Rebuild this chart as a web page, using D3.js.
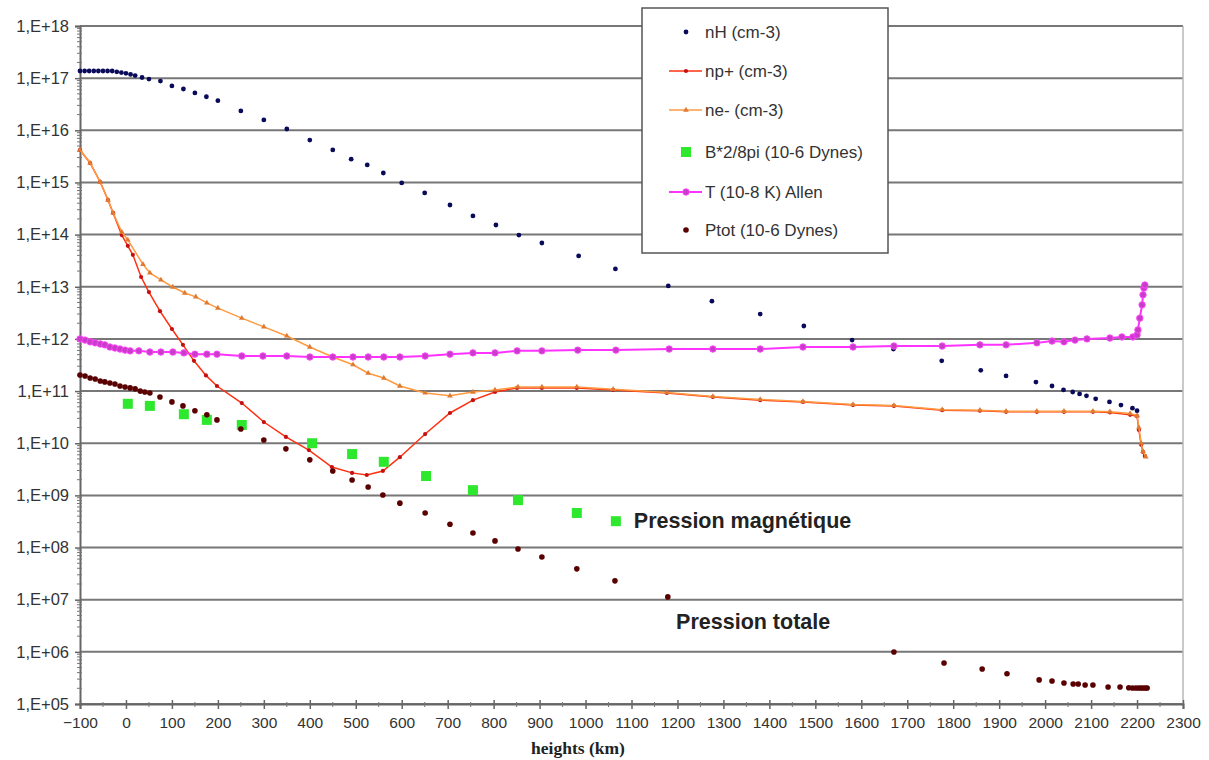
<!DOCTYPE html>
<html>
<head>
<meta charset="utf-8">
<script src="https://cdn.jsdelivr.net/npm/d3@7/dist/d3.min.js"></script>
<style>
  html, body { margin: 0; padding: 0; background: #fff; }
  svg { display: block; font-family: "Liberation Sans", Arial, sans-serif; }
</style>
</head>
<body>
<svg id="chart" width="1209" height="760"></svg>
<script>
// ---------------- DATA ----------------
const xTickValues = [-100,0,100,200,300,400,500,600,700,800,900,1000,1100,1200,1300,1400,1500,1600,1700,1800,1900,2000,2100,2200,2300];
const yTickExponents = [5,6,7,8,9,10,11,12,13,14,15,16,17,18];
const xTitle = "heights (km)";

const seriesNames = ["nH (cm-3)", "np+ (cm-3)", "ne- (cm-3)", "B*2/8pi (10-6 Dynes)", "T (10-8 K) Allen", "Ptot (10-6 Dynes)"];

const nH_h = [-100,-90,-80,-70,-60,-50,-40,-30,-20,-10,0,10,20,35,50,75,100,125,150,175,200,250,300,350,400,450,490,525,560,600,650,705,755,805,855,905,985,1065,1180,1275,1380,1475,1580,1670,1775,1860,1915,1980,2015,2040,2060,2075,2090,2110,2140,2165,2190,2200];
const nH_v = [1.37e17,1.37e17,1.37e17,1.37e17,1.37e17,1.37e17,1.37e17,1.37e17,1.32e17,1.28e17,1.24e17,1.18e17,1.12e17,1.03e17,9.6e16,8.8e16,7.1e16,6.2e16,5.2e16,4.4e16,3.7e16,2.35e16,1.58e16,1.06e16,6.5e15,4.2e15,2.8e15,2.17e15,1.52e15,9.8e14,6.3e14,3.7e14,2.28e14,1.53e14,9.8e13,6.9e13,3.9e13,2.2e13,1.04e13,5.3e12,3.0e12,1.77e12,9.5e11,6.4e11,3.8e11,2.5e11,1.95e11,1.49e11,1.25e11,1.05e11,9.6e10,8.8e10,8.1e10,7.1e10,6.2e10,5.4e10,4.7e10,4.2e10];

const np_h = [-100,-78,-56,-39,-28,-9,4,15,33,50,74,100,124,148,174,198,252,300,348,398,448,492,524,559,596,651,705,755,803,851,905,981,1060,1177,1277,1380,1473,1582,1671,1776,1858,1915,1982,2041,2104,2141,2185,2200,2204,2209,2213,2217];
const np_v = [4.2e15,2.36e15,1.02e15,4.6e14,2.6e14,9.8e13,6.1e13,4.1e13,1.54e13,7.9e12,3.4e12,1.55e12,7.7e11,3.8e11,2.0e11,1.25e11,5.9e10,2.55e10,1.32e10,7.4e9,3.5e9,2.7e9,2.46e9,2.94e9,5.4e9,1.5e10,3.8e10,6.7e10,9.6e10,1.15e11,1.15e11,1.15e11,1.05e11,9.2e10,7.7e10,6.7e10,6.2e10,5.4e10,5.2e10,4.3e10,4.2e10,4.0e10,4.0e10,4.0e10,4.0e10,3.9e10,3.5e10,3.3e10,1.8e10,9.3e9,6.8e9,5.7e9];

const ne_h = [-100,-78,-56,-39,-28,-9,4,37,52,76,102,128,152,176,200,252,300,350,400,450,494,527,561,596,651,705,755,803,853,905,981,1060,1177,1277,1380,1473,1582,1671,1776,1858,1915,1982,2041,2104,2141,2185,2200,2204,2209,2213,2219];
const ne_v = [4.2e15,2.36e15,1.02e15,4.6e14,2.6e14,1.12e14,7.9e13,2.7e13,1.84e13,1.35e13,9.9e12,7.6e12,6.4e12,4.9e12,3.9e12,2.5e12,1.7e12,1.14e12,7.0e11,4.5e11,3.2e11,2.2e11,1.78e11,1.25e11,9.2e10,8.1e10,9.6e10,1.05e11,1.2e11,1.2e11,1.2e11,1.08e11,9.4e10,7.9e10,6.9e10,6.3e10,5.5e10,5.3e10,4.4e10,4.3e10,4.1e10,4.1e10,4.1e10,4.1e10,4.0e10,3.7e10,3.4e10,2.0e10,1.0e10,7.0e9,5.5e9];

const B_h = [4,52,126,176,252,405,492,561,653,755,853,981,1066];
const B_v = [5.7e10,5.2e10,3.6e10,2.8e10,2.24e10,1.0e10,6.2e9,4.4e9,2.35e9,1.26e9,8.1e8,4.6e8,3.2e8];

const T_h = [-100,-89,-78,-67,-56,-46,-35,-24,-13,-2,9,28,52,76,102,126,150,176,198,252,298,350,400,450,494,527,561,596,651,705,755,803,851,905,983,1066,1182,1277,1380,1473,1582,1671,1776,1858,1915,1982,2015,2041,2065,2091,2141,2167,2191,2200,2202,2206,2211,2213,2215,2217];
const T_v = [1.0e12,9.5e11,8.8e11,8.4e11,8.0e11,7.7e11,7.0e11,6.7e11,6.4e11,6.1e11,5.9e11,5.9e11,5.6e11,5.6e11,5.6e11,5.4e11,5.1e11,5.1e11,5.1e11,4.7e11,4.7e11,4.7e11,4.5e11,4.5e11,4.5e11,4.5e11,4.5e11,4.5e11,4.7e11,5.1e11,5.4e11,5.4e11,5.9e11,5.9e11,6.1e11,6.1e11,6.4e11,6.4e11,6.4e11,7.0e11,7.0e11,7.3e11,7.3e11,7.7e11,7.7e11,8.4e11,9.1e11,8.8e11,9.5e11,1.0e12,1.04e12,1.09e12,1.09e12,1.19e12,1.49e12,2.5e12,4.5e12,7.0e12,9.5e12,1.08e13];

const P_h = [-100,-89,-78,-67,-56,-46,-35,-24,-13,-2,9,20,31,41,52,74,100,124,150,176,198,250,300,348,400,450,492,527,559,596,651,705,755,803,853,905,981,1064,1179,1671,1780,1863,1917,1987,2015,2041,2061,2072,2087,2104,2137,2163,2182,2190,2197,2203,2208,2213,2218,2222];
const P_v = [2.04e11,1.95e11,1.78e11,1.71e11,1.56e11,1.50e11,1.43e11,1.37e11,1.25e11,1.20e11,1.15e11,1.10e11,1.00e11,9.6e10,9.2e10,7.7e10,6.2e10,5.2e10,4.2e10,3.5e10,2.8e10,1.88e10,1.15e10,7.8e9,4.8e9,2.94e9,1.97e9,1.45e9,1.02e9,7.1e8,4.6e8,2.8e8,1.9e8,1.34e8,9.4e7,6.6e7,3.9e7,2.3e7,1.13e7,9.9e5,6.1e5,4.7e5,3.8e5,2.9e5,2.76e5,2.53e5,2.42e5,2.42e5,2.31e5,2.31e5,2.12e5,2.12e5,2.05e5,2.03e5,2.03e5,2.03e5,2.03e5,2.03e5,2.03e5,2.03e5];

const annotations = [
  {text: "Pression magnétique", h: 1105, v: 3.2e8},
  {text: "Pression totale", h: 1197, v: 3.7e6}
];

// ---------------- LAYOUT ----------------
const svg = d3.select("#chart");
const L = 80, R = 1183, T = 26, B = 704;
const SANS = "'Liberation Sans', Arial, sans-serif";
const SERIF = "'Liberation Serif', 'Times New Roman', serif";

const x = d3.scaleLinear().domain([-100, 2300]).range([L, R]);
const y = d3.scaleLog().domain([1e5, 1e18]).range([B, T]);

const zip = (hs, vs) => hs.map((h, i) => ({h, v: vs[i]}));

// gridlines
const g = svg.append("g");
g.selectAll("line.grid").data(yTickExponents).enter().append("line")
  .attr("x1", L).attr("x2", R)
  .attr("y1", e => y(Math.pow(10, e))).attr("y2", e => y(Math.pow(10, e)))
  .attr("stroke", "#777").attr("stroke-width", 2);

// right border
g.append("line").attr("x1", R).attr("x2", R).attr("y1", T).attr("y2", B)
  .attr("stroke", "#b8b8b8").attr("stroke-width", 1.5);

// y axis
const yAxis = d3.axisLeft(y)
  .tickValues(yTickExponents.map(e => Math.pow(10, e)))
  .tickFormat(v => "1,E+" + String(Math.round(Math.log10(v))).padStart(2, "0"))
  .tickSize(5).tickPadding(6);
const ya = svg.append("g").attr("transform", `translate(${L},0)`).call(yAxis);
ya.select(".domain").attr("stroke", "#666").attr("stroke-width", 2);
ya.selectAll(".tick line").attr("stroke", "#666").attr("stroke-width", 1.5);
ya.selectAll(".tick text").style("font-size", "16.5px").style("font-family", SANS).attr("fill", "#333");

// minor y ticks
const minor = [];
yTickExponents.slice(0, -1).forEach(e => { for (let k = 2; k <= 9; k++) minor.push(k * Math.pow(10, e)); });
svg.append("g").selectAll("line").data(minor).enter().append("line")
  .attr("x1", L - 3).attr("x2", L + 2)
  .attr("y1", d => y(d)).attr("y2", d => y(d))
  .attr("stroke", "#777").attr("stroke-width", 1);

// x axis
const xAxis = d3.axisBottom(x).tickValues(xTickValues).tickFormat(d3.format("d"))
  .tickSize(5).tickPadding(8);
const xa = svg.append("g").attr("transform", `translate(0,${B})`).call(xAxis);
xa.select(".domain").attr("stroke", "#666").attr("stroke-width", 2);
xa.selectAll(".tick line").attr("stroke", "#666").attr("stroke-width", 1.5).attr("y1", -4);
xa.selectAll(".tick text").style("font-size", "15.5px").style("font-family", SANS).attr("fill", "#333");
// minor x ticks
svg.append("g").selectAll("line").data(xTickValues.slice(0, -1).map(v => v + 50)).enter().append("line")
  .attr("x1", d => x(d)).attr("x2", d => x(d))
  .attr("y1", B - 2).attr("y2", B + 3)
  .attr("stroke", "#777").attr("stroke-width", 1);

svg.append("text").attr("x", 578).attr("y", 754).attr("text-anchor", "middle")
  .style("font-family", SERIF).style("font-weight", "bold").style("font-size", "17.5px")
  .attr("fill", "#222").text(xTitle);

// ---------------- SERIES ----------------
const line = d3.line().x(d => x(d.h)).y(d => y(d.v));
const plot = svg.append("g");

// nH
plot.append("g").selectAll("circle").data(zip(nH_h, nH_v)).enter().append("circle")
  .attr("cx", d => x(d.h)).attr("cy", d => y(d.v)).attr("r", 2.4).attr("fill", "#0a0a5a");

// np+
plot.append("path").datum(zip(np_h, np_v)).attr("d", line)
  .attr("fill", "none").attr("stroke", "#ff3010").attr("stroke-width", 1.5);
plot.append("g").selectAll("circle").data(zip(np_h, np_v)).enter().append("circle")
  .attr("cx", d => x(d.h)).attr("cy", d => y(d.v)).attr("r", 2.1).attr("fill", "#c41010");

// ne-
const tri = d3.symbol().type(d3.symbolTriangle).size(14);
plot.append("path").datum(zip(ne_h, ne_v)).attr("d", line)
  .attr("fill", "none").attr("stroke", "#ff9a40").attr("stroke-width", 1.5);
plot.append("g").selectAll("path").data(zip(ne_h, ne_v)).enter().append("path")
  .attr("d", tri).attr("transform", d => `translate(${x(d.h)},${y(d.v)})`).attr("fill", "#e07a30");

// B^2/8pi
plot.append("g").selectAll("rect").data(zip(B_h, B_v)).enter().append("rect")
  .attr("x", d => x(d.h) - 5).attr("y", d => y(d.v) - 5).attr("width", 10).attr("height", 10)
  .attr("fill", "#2ee82e");

// T
plot.append("path").datum(zip(T_h, T_v)).attr("d", line)
  .attr("fill", "none").attr("stroke", "#ff33ff").attr("stroke-width", 2);
plot.append("g").selectAll("circle").data(zip(T_h, T_v)).enter().append("circle")
  .attr("cx", d => x(d.h)).attr("cy", d => y(d.v)).attr("r", 3.2)
  .attr("fill", "#c83cc8").attr("stroke", "#ff44ff").attr("stroke-width", 1);

// Ptot
plot.append("g").selectAll("circle").data(zip(P_h, P_v)).enter().append("circle")
  .attr("cx", d => x(d.h)).attr("cy", d => y(d.v)).attr("r", 2.8).attr("fill", "#5a0000");

// annotations
svg.append("g").selectAll("text").data(annotations).enter().append("text")
  .attr("x", d => x(d.h)).attr("y", d => y(d.v) + 7)
  .style("font-family", SANS).style("font-weight", "bold").style("font-size", "21.5px")
  .attr("fill", "#222").text(d => d.text);

// ---------------- LEGEND ----------------
const lg = svg.append("g");
lg.append("rect").attr("x", 642).attr("y", 8).attr("width", 246).attr("height", 245)
  .attr("fill", "#fff").attr("stroke", "#555").attr("stroke-width", 1.5);
const rowY = [32, 71, 110, 152, 192, 230];
const mx = 686;
seriesNames.forEach((name, i) => {
  const yy = rowY[i];
  if (i === 1 || i === 2 || i === 4) {
    lg.append("line").attr("x1", 669).attr("x2", 702).attr("y1", yy).attr("y2", yy)
      .attr("stroke", i === 1 ? "#ff3010" : i === 2 ? "#ff9a40" : "#ff33ff")
      .attr("stroke-width", i === 4 ? 2 : 1.5);
  }
  if (i === 0) lg.append("circle").attr("cx", mx).attr("cy", yy).attr("r", 2.4).attr("fill", "#0a0a5a");
  if (i === 1) lg.append("circle").attr("cx", mx).attr("cy", yy).attr("r", 2.1).attr("fill", "#c41010");
  if (i === 2) lg.append("path").attr("d", tri).attr("transform", `translate(${mx},${yy})`).attr("fill", "#e07a30");
  if (i === 3) lg.append("rect").attr("x", mx - 5).attr("y", yy - 5).attr("width", 10).attr("height", 10).attr("fill", "#2ee82e");
  if (i === 4) lg.append("circle").attr("cx", mx).attr("cy", yy).attr("r", 3.2).attr("fill", "#c83cc8").attr("stroke", "#ff44ff");
  if (i === 5) lg.append("circle").attr("cx", mx).attr("cy", yy).attr("r", 2.8).attr("fill", "#5a0000");
  lg.append("text").attr("x", 705).attr("y", yy + 6)
    .style("font-family", SANS).style("font-size", "17px").attr("fill", "#333").text(name);
});
</script>
</body>
</html>
